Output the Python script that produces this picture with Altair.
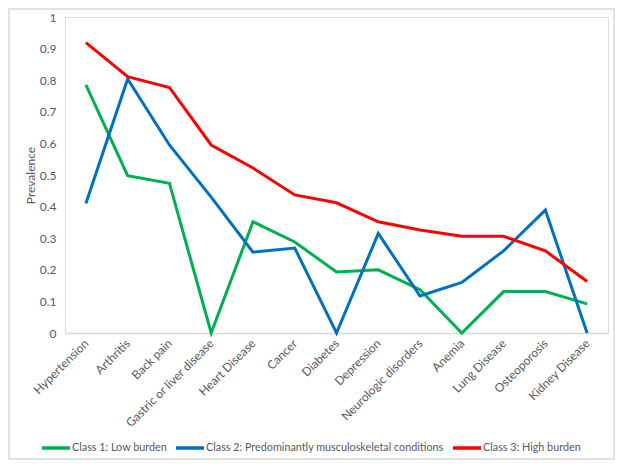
import altair as alt
import pandas as pd

categories = ["Hypertension", "Arthritis", "Back pain", "Gastric or liver disease",
              "Heart Disease", "Cancer", "Diabetes", "Depression", "Neurologic disorders",
              "Anemia", "Lung Disease", "Osteoporosis", "Kidney Disease"]
class1 = [0.785, 0.498, 0.474, 0.0, 0.352, 0.288, 0.193, 0.200, 0.137, 0.0, 0.131, 0.131, 0.092]
class2 = [0.410, 0.804, 0.595, 0.430, 0.256, 0.269, 0.0, 0.315, 0.117, 0.160, 0.260, 0.389, 0.0]
class3 = [0.919, 0.811, 0.777, 0.595, 0.522, 0.437, 0.412, 0.352, 0.326, 0.306, 0.306, 0.260, 0.163]
series_names = ["Class 1: Low burden",
                "Class 2: Predominantly musculoskeletal conditions",
                "Class 3: High burden"]
series_colors = ["#00B050", "#0070C0", "#FF0000"]

rows = []
for name, vals in zip(series_names, [class1, class2, class3]):
    for i, (c, v) in enumerate(zip(categories, vals)):
        rows.append({"Disease": c, "Prevalence": v, "Series": name, "order": i})
df = pd.DataFrame(rows)

W, H = 543, 316
FONT = "Lato"

lines = alt.Chart(df).mark_line(strokeWidth=3, strokeJoin="miter").encode(
    x=alt.X("Disease:N", sort=categories,
            scale=alt.Scale(type="point", padding=0.5),
            axis=alt.Axis(title=None, labelAngle=-45, labelAlign="right",
                          labelBaseline="middle", labelPadding=8, ticks=False,
                          domainColor="#d9d9d9", domainWidth=1.5,
                          labelColor="#595959", labelFontSize=12, labelFont=FONT,
                          labelLimit=0, grid=False)),
    y=alt.Y("Prevalence:Q", scale=alt.Scale(domain=[0, 1], nice=False),
            axis=alt.Axis(values=[round(i * 0.1, 1) for i in range(11)], format="~g",
                          ticks=False, domain=False, grid=False, labelPadding=9,
                          labelColor="#595959", labelFontSize=12, labelFont=FONT,
                          title="Prevalence", titleFont=FONT, titleFontSize=12,
                          titleFontWeight="normal", titleColor="#595959",
                          titleAngle=-90, titleX=-35, titleY=158,
                          titleAlign="center", titleBaseline="middle")),
    color=alt.Color("Series:N", sort=series_names,
                    scale=alt.Scale(domain=series_names, range=series_colors),
                    legend=alt.Legend(title=None, orient="none", direction="horizontal",
                                      legendX=-25, legendY=415,
                                      symbolType="stroke", symbolSize=784,
                                      symbolStrokeWidth=3.5, labelFont=FONT,
                                      labelFontSize=10.8, labelColor="#595959",
                                      labelLimit=0, labelOffset=0, columnPadding=2)),
    order="order:Q",
)

border_df = pd.DataFrame({"a": [0]})
border = alt.Chart(border_df).mark_rect(fill=None, stroke="#d9d9d9", strokeWidth=1.5).encode(
    x=alt.value(-56), x2=alt.value(W + 6), y=alt.value(-8), y2=alt.value(442)
)

chart = alt.layer(border, lines).properties(
    width=W, height=H,
    autosize=alt.AutoSizeParams(type="none"),
    padding={"left": 57, "top": 9, "right": 7, "bottom": 127},
).configure_view(stroke=None).configure(background="white")

chart.save("out.html", embed_options={"renderer": "svg", "actions": False})
